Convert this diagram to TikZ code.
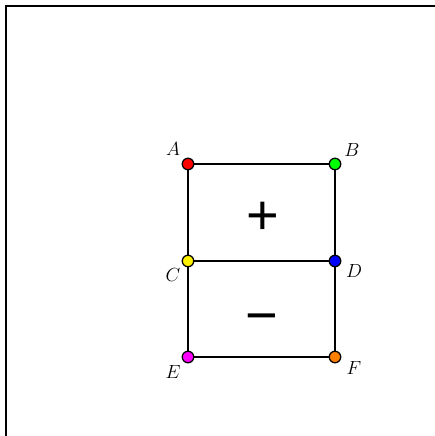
\RequirePackage{fix-cm}
\documentclass[tikz,border=0pt]{standalone}
\usepackage{fontspec}
\newfontfamily\signfont{Liberation Sans}
\definecolor{ptmagenta}{RGB}{255,0,255}
\definecolor{ptgreen}{RGB}{0,255,0}
\definecolor{ptorange}{RGB}{255,128,0}
\begin{document}
\begin{tikzpicture}[x=1pt,y=1pt,
  pt/.style={circle,draw=black,line width=1.3pt,inner sep=0pt,minimum size=11.5pt},
  lbl/.style={font=\fontsize{19}{19}\selectfont},
  sgn/.style={font=\signfont\fontsize{56}{56}\selectfont},
  edge/.style={line width=1.7pt}]
\useasboundingbox (0,0) rectangle (435,436);
\clip (0,0) rectangle (435,436);
\draw[line width=1.9pt] (6,-10) -- (6,430) -- (445,430);
\coordinate (A) at (188,272);
\coordinate (B) at (335,272);
\coordinate (C) at (188,175);
\coordinate (D) at (335,175);
\coordinate (E) at (188,79);
\coordinate (F) at (335,79);
\draw[edge] (A) -- (B) -- (D) -- (F) -- (E) -- (C) -- cycle;
\draw[edge] (C) -- (D);
\node[pt,fill=red] (pA) at (A) {};
\node[pt,fill=ptgreen] (pB) at (B) {};
\node[pt,fill=yellow] (pC) at (C) {};
\node[pt,fill=blue] (pD) at (D) {};
\node[pt,fill=ptmagenta] (pE) at (E) {};
\node[pt,fill=ptorange] (pF) at (F) {};
\node[lbl] (lA) at (173,287) {$A$};
\node[lbl] (lB) at (352,286) {$B$};
\node[lbl] (lC) at (173,161) {$C$};
\node[lbl] (lD) at (354,165) {$D$};
\node[lbl] (lE) at (173,64) {$E$};
\node[lbl] (lF) at (354,68) {$F$};
\node[sgn] (plus) at (263,218) {+};
\node[sgn] (minus) at (262,112) {−};
\end{tikzpicture}
\end{document}
